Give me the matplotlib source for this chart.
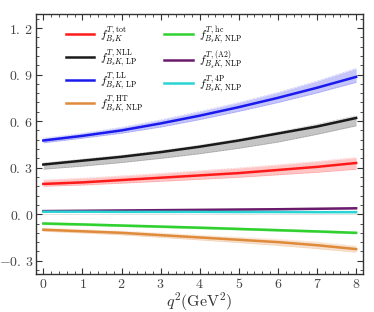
import numpy as np
import matplotlib.pyplot as plt
from matplotlib.ticker import MultipleLocator

plt.rcParams['mathtext.fontset'] = 'cm'
plt.rcParams['font.family'] = 'DejaVu Serif'

q2 = np.arange(0, 9)

# central values
tot = [0.195, 0.205, 0.22, 0.235, 0.25, 0.265, 0.285, 0.305, 0.33]
nll = [0.32, 0.345, 0.37, 0.40, 0.435, 0.475, 0.52, 0.565, 0.62]
ll = [0.475, 0.505, 0.54, 0.585, 0.635, 0.69, 0.75, 0.815, 0.885]
ht = [-0.10, -0.11, -0.12, -0.135, -0.15, -0.165, -0.18, -0.20, -0.225]
hc = [-0.06, -0.066, -0.073, -0.08, -0.087, -0.095, -0.103, -0.111, -0.12]
a2 = [0.02, 0.022, 0.024, 0.026, 0.028, 0.030, 0.032, 0.035, 0.038]
fp = [0.016, 0.016, 0.015, 0.015, 0.015, 0.014, 0.014, 0.013, 0.013]

# band edges
tot_lo = [0.18, 0.188, 0.20, 0.212, 0.225, 0.238, 0.254, 0.27, 0.29]
tot_hi = [0.22, 0.232, 0.247, 0.263, 0.28, 0.298, 0.318, 0.34, 0.365]
nll_lo = [0.29, 0.31, 0.333, 0.36, 0.39, 0.425, 0.465, 0.515, 0.57]
nll_hi = [0.33, 0.355, 0.38, 0.41, 0.445, 0.485, 0.53, 0.58, 0.635]
ll_lo = [0.46, 0.49, 0.522, 0.562, 0.61, 0.663, 0.72, 0.782, 0.85]
ll_hi = [0.49, 0.522, 0.56, 0.608, 0.662, 0.72, 0.785, 0.858, 0.94]
ht_lo = [-0.11, -0.121, -0.133, -0.149, -0.166, -0.183, -0.201, -0.222, -0.245]
ht_hi = [-0.09, -0.099, -0.108, -0.121, -0.135, -0.148, -0.161, -0.179, -0.205]
hc_lo = [v - 0.007 for v in hc]
hc_hi = [v + 0.007 for v in hc]
a2_lo = [v - 0.003 for v in a2]
a2_hi = [v + 0.003 for v in a2]
fp_lo = [v - 0.002 for v in fp]
fp_hi = [v + 0.002 for v in fp]

labels = [r'$f^{T,\,\mathrm{tot}}_{B_sK}$',
          r'$f^{T,\,\mathrm{NLL}}_{B_sK,\,\mathrm{LP}}$',
          r'$f^{T,\,\mathrm{LL}}_{B_sK,\,\mathrm{LP}}$',
          r'$f^{T,\,\mathrm{HT}}_{B_sK,\,\mathrm{NLP}}$',
          r'$f^{T,\,\mathrm{hc}}_{B_sK,\,\mathrm{NLP}}$',
          r'$f^{T,\,\mathrm{(A2)}}_{B_sK,\,\mathrm{NLP}}$',
          r'$f^{T,\,\mathrm{4P}}_{B_sK,\,\mathrm{NLP}}$']
colors = ['#ff1a1a', '#1a1a1a', '#1a1aee', '#e08a3c', '#2ed12e', '#6a1a6a', '#2ad4d4']
series = [(tot, tot_lo, tot_hi), (nll, nll_lo, nll_hi), (ll, ll_lo, ll_hi),
          (ht, ht_lo, ht_hi), (hc, hc_lo, hc_hi), (a2, a2_lo, a2_hi), (fp, fp_lo, fp_hi)]

fig = plt.figure(figsize=(3.74, 3.12), dpi=100)
ax = fig.add_axes([0.096, 0.122, 0.874, 0.833])

x = np.linspace(0, 8, 81)
for (c, lo, hi), col, lab in zip(series, colors, labels):
    cs = np.interp(x, q2, c)
    los = np.interp(x, q2, lo)
    his = np.interp(x, q2, hi)
    ax.fill_between(x, los, his, color=col, alpha=0.25, lw=0)
    ax.plot(x, los, color=col, lw=0.4, ls=':', alpha=0.5)
    ax.plot(x, his, color=col, lw=0.4, ls=':', alpha=0.5)
    ax.plot(x, cs, color=col, lw=0.6, label=lab)

ax.axhline(0, color='#dddddd', lw=0.6, zorder=0)

yt = [-0.3, 0.0, 0.3, 0.6, 0.9, 1.2]
ax.set_xlim(-0.19, 8.17)
ax.set_ylim(-0.385, 1.29)
ax.set_xticks(range(0, 9))
ax.set_yticks(yt)
ax.set_yticklabels([(r'$%.1f$' % v).replace('.', r'.\,') for v in yt])
ax.set_xticklabels([r'$%d$' % i for i in range(0, 9)])
ax.xaxis.set_minor_locator(MultipleLocator(0.2))
ax.yaxis.set_minor_locator(MultipleLocator(0.06))
ax.tick_params(which='both', direction='in', top=True, right=True, labelsize=10,
               colors='#333333', labelcolor='#444444', pad=2)
ax.tick_params(which='major', length=4, width=0.8)
ax.tick_params(which='minor', length=2, width=0.6)
for s in ax.spines.values():
    s.set_color('#333333')
    s.set_linewidth(1.0)
ax.set_xlabel(r'$q^2(\mathrm{GeV}^2)$', fontsize=11.5, color='#333333', labelpad=0)

handles, labs = ax.get_legend_handles_labels()
for h in handles:
    h.set_linewidth(1.8)
leg = ax.legend(handles, labs, ncol=2,
                loc='upper left', bbox_to_anchor=(0.06, 1.0), frameon=False,
                fontsize=8, handlelength=2.6, handletextpad=0.5,
                columnspacing=1.9, labelspacing=0.2)

fig.savefig('out.png', dpi=100)
